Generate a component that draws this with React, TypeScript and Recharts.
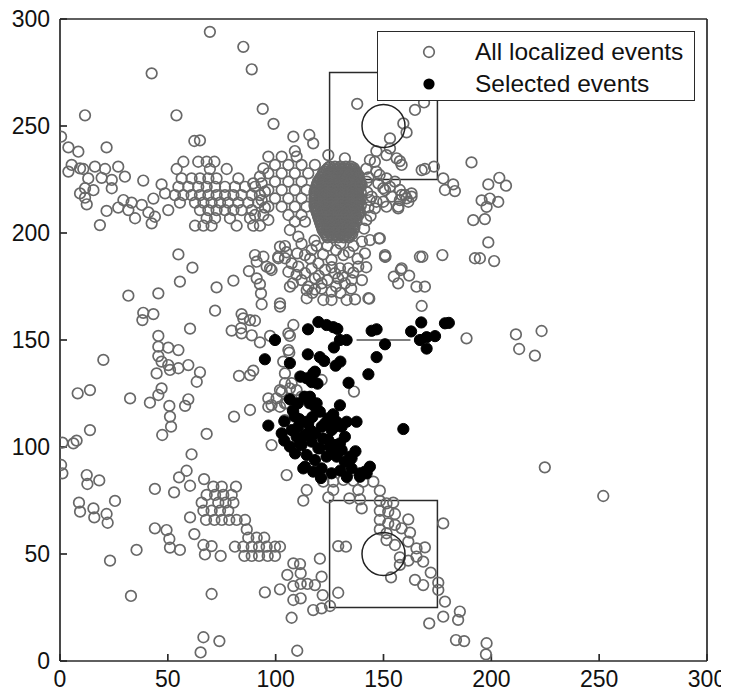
import React from 'react';
import { ScatterChart, Scatter, XAxis, YAxis, ReferenceArea, ReferenceDot, ReferenceLine, Legend } from 'recharts';

type Pt = [number, number];

const axisTicks = [0, 50, 100, 150, 200, 250, 300];

// gray rings: the west band and its lattice
const westBandEvents: Pt[] = [
  [69.5, 294], [85, 287], [88.9, 276.5], [42.5, 274.6], [11.6, 255], [54, 255], [94, 258], [99, 251],
  [0.5, 245], [3.9, 240], [8.5, 238], [21.6, 240], [62.3, 243], [64.9, 243.3],
  [5.4, 231.8], [3.9, 228.7], [9.3, 230.2], [10.8, 229.9], [16.2, 231], [20.9, 229.9], [27, 231], [30.1, 226.3],
  [13.1, 225.5], [19.3, 225.8], [24, 224.8], [24, 220.9], [38.6, 224.5], [11.6, 220.9], [9.3, 218.5], [15.5, 220],
  [11.6, 216.5], [12.4, 213.4], [21.6, 210.3], [18.5, 203.7], [47.1, 222.7], [48.7, 218.5], [43.3, 216.1],
  [29.4, 215.4], [33.2, 214.2], [37.9, 213.1], [27, 211.9], [31.7, 210.7], [41, 209.6], [44, 207.6], [34.8, 206.9],
  [42.5, 204.5], [50.2, 210.7],
  [57.2, 233.3], [64.1, 233.3], [68, 233.3], [71.6, 233.3],
  [54.1, 229.9], [69.5, 229.9], [77.3, 229.9],
  [56.4, 225.5], [61, 225.5], [64.9, 225.5], [68.8, 225.5], [72.6, 225.5], [82.7, 225.5],
  [54.9, 221.6], [59.5, 221.6], [64.1, 221.6], [68, 221.6], [71.9, 221.6], [76.5, 221.6], [81.1, 221.6], [85.8, 221.6], [90.4, 221.6],
  [53.3, 217.7], [57.2, 217.7], [61, 217.7], [64.9, 217.7], [68.8, 217.7], [72.6, 217.7], [76.5, 217.7], [80.4, 217.7], [84.2, 217.7], [88.9, 217.7], [92.7, 217.7],
  [55.6, 214.2], [62.6, 214.2], [66.5, 214.2], [70.3, 214.2], [74.2, 214.2], [78, 214.2], [82.7, 214.2], [87.3, 214.2], [91.9, 214.2],
  [64.9, 210.7], [68.8, 210.7], [72.6, 210.7], [76.5, 210.7], [80.4, 210.7], [84.2, 210.7], [88.9, 210.7],
  [68, 206.9], [71.9, 206.9], [78.8, 206.9], [88.1, 206.9],
  [62.6, 203.4], [66.5, 203.4], [70.3, 203.4], [81.9, 203.4], [89.6, 203.4], [92.7, 203.4],
  [94.3, 230.2], [92.7, 226.3], [89.6, 223.2], [93.5, 223.2], [95, 219.3], [93.5, 215.4], [95, 211.9], [90.4, 208.4], [94.3, 208.4],
];

// gray rings around the dense cluster
const centralEvents: Pt[] = [
  [96.6, 235.7], [102.8, 235.7], [109.7, 235.7],
  [99.7, 231.8], [105.9, 231.8], [112, 231.8], [118.2, 231.8],
  [96.6, 227.9], [102.8, 227.9], [108.9, 227.9], [115.1, 227.9],
  [99.7, 224], [105.9, 224], [112, 224],
  [96.6, 220.1], [102.8, 220.1], [108.9, 220.1], [114.3, 220.1],
  [99.7, 216.2], [105.9, 216.2], [112, 216.2],
  [96.6, 212.3], [102.8, 212.3], [108.9, 212.3], [114.3, 212.3],
  [105.9, 208.4], [112, 208.4], [108.9, 205.3], [113.6, 205.3], [106.6, 201.4], [96.6, 206.1],
  [108.2, 245], [115.6, 245.8], [117.4, 241.9], [108.9, 238.3], [124.4, 236.4], [132.1, 234.9], [143.7, 234.1],
  [146, 233.3], [151.4, 236.4], [153, 239.5], [156.1, 234.9], [157.6, 233.6], [146.7, 238.3], [158.4, 231.8],
  [151.4, 225.5], [149.9, 220.9], [153, 221.6], [155.3, 224], [158.4, 217.8], [160.7, 216.2], [163, 217],
  [157.6, 215.4], [161.5, 214.6], [149.9, 214.6], [151.4, 212.3], [156.8, 211.5], [143.7, 215.4], [146.7, 214.6],
  [139.9, 222.4], [142.2, 224], [146.7, 228.7], [148.2, 227.1],
  [147.6, 223.2], [150.7, 220.1], [153.8, 217], [156.9, 212.3], [159.9, 217.8], [163, 218.5], [157.6, 220.1],
  [144.5, 217], [146, 211.5], [167.7, 229.4],
  [142, 230], [143, 226], [142.5, 219], [143, 212], [142, 206], [141, 202], [144, 208],
  [102, 193.6], [110.5, 198.3], [101.2, 188.9], [104.3, 188.2], [107.4, 185.8], [110.5, 184.3], [113.6, 189.7],
  [116.7, 192.1], [105.9, 181.9], [109.7, 180.4], [113.6, 181.2], [116.7, 183.5], [119.8, 185.8], [122.9, 182.7],
  [125.9, 187.4], [127.5, 181.2], [129, 178.8], [132.1, 176.5], [135.2, 178], [138.3, 184.3], [141.4, 190.5],
  [143.7, 196.7], [115.1, 174.9], [121.3, 176.5], [125.9, 172.6], [114.4, 169.5], [122.1, 168.7], [125.9, 168.7],
  [132.9, 168.7], [136.8, 169], [143, 169.5], [106.6, 174.9], [102, 167.1], [97.4, 183.5], [150.7, 189.7],
  [148.3, 197.5], [131.4, 189.7], [133.7, 183.5], [118.2, 178.8], [129.8, 183.5],
  [112, 195], [118, 196.5], [124, 194], [130, 195], [136, 194], [140, 196], [110, 190.5], [116, 188], [122, 190],
  [128, 192], [134, 191], [138, 188], [120, 180], [126, 184], [131, 180], [136, 181.5], [124, 178], [112, 178],
  [108, 176.5], [117, 172], [130, 172], [128, 175], [135, 174], [140, 178], [142, 184], [105, 191], [119, 194],
  [118.2, 173.6], [114.4, 173.3], [121.3, 174], [143.4, 169.3], [147.9, 197.5], [150.7, 188.9],
  [90.4, 189.7], [94.3, 188.9], [91.2, 186.6], [95.8, 184.3], [98.1, 182.7], [101.2, 188.2], [104.3, 193.9],
  [87.6, 182.2], [91.2, 178.8], [92.7, 176.1], [93.2, 171.8], [93.5, 166.7], [102, 165.6],
];

// the saturated core of the cluster, row by row
const coreEvents: Pt[] = [
  [125, 231], [127.5, 231], [130, 231], [132.5, 231], [135, 231],
  [123.5, 229.5], [126, 229.5], [128.5, 229.5], [131, 229.5], [133.5, 229.5], [136, 229.5],
  [122, 228], [124.5, 228], [127, 228], [129.5, 228], [132, 228], [134.5, 228], [137, 228],
  [121.5, 226.5], [124, 226.5], [126.5, 226.5], [129, 226.5], [131.5, 226.5], [134, 226.5], [136.5, 226.5], [138.5, 226.5],
  [120.5, 225], [123, 225], [125.5, 225], [128, 225], [130.5, 225], [133, 225], [135.5, 225], [138, 225],
  [119.5, 223.5], [122, 223.5], [124.5, 223.5], [127, 223.5], [129.5, 223.5], [132, 223.5], [134.5, 223.5], [137, 223.5], [139, 223.5],
  [119, 222], [121.5, 222], [124, 222], [126.5, 222], [129, 222], [131.5, 222], [134, 222], [136.5, 222], [139, 222],
  [118.5, 220.5], [121, 220.5], [123.5, 220.5], [126, 220.5], [128.5, 220.5], [131, 220.5], [133.5, 220.5], [136, 220.5], [138.5, 220.5],
  [118, 219], [120.5, 219], [123, 219], [125.5, 219], [128, 219], [130.5, 219], [133, 219], [135.5, 219], [138, 219], [139.5, 219],
  [118.5, 217.5], [121, 217.5], [123.5, 217.5], [126, 217.5], [128.5, 217.5], [131, 217.5], [133.5, 217.5], [136, 217.5], [138.5, 217.5],
  [118, 216], [120.5, 216], [123, 216], [125.5, 216], [128, 216], [130.5, 216], [133, 216], [135.5, 216], [138, 216], [139.5, 216],
  [118.5, 214.5], [121, 214.5], [123.5, 214.5], [126, 214.5], [128.5, 214.5], [131, 214.5], [133.5, 214.5], [136, 214.5], [138.5, 214.5],
  [118, 213], [120.5, 213], [123, 213], [125.5, 213], [128, 213], [130.5, 213], [133, 213], [135.5, 213], [138, 213], [139.5, 213],
  [118.5, 211.5], [121, 211.5], [123.5, 211.5], [126, 211.5], [128.5, 211.5], [131, 211.5], [133.5, 211.5], [136, 211.5], [138.5, 211.5],
  [119, 210], [121.5, 210], [124, 210], [126.5, 210], [129, 210], [131.5, 210], [134, 210], [136.5, 210], [139, 210],
  [119.5, 208.5], [122, 208.5], [124.5, 208.5], [127, 208.5], [129.5, 208.5], [132, 208.5], [134.5, 208.5], [137, 208.5], [138.5, 208.5],
  [120, 207], [122.5, 207], [125, 207], [127.5, 207], [130, 207], [132.5, 207], [135, 207], [137.5, 207],
  [120.5, 205.5], [123, 205.5], [125.5, 205.5], [128, 205.5], [130.5, 205.5], [133, 205.5], [135.5, 205.5], [137.5, 205.5],
  [121, 204], [123.5, 204], [126, 204], [128.5, 204], [131, 204], [133.5, 204], [136, 204],
  [121.5, 202.5], [124, 202.5], [126.5, 202.5], [129, 202.5], [131.5, 202.5], [134, 202.5], [136.5, 202.5],
  [122, 201], [124.5, 201], [127, 201], [129.5, 201], [132, 201], [134.5, 201],
  [123, 199.5], [125.5, 199.5], [128, 199.5], [130.5, 199.5], [133, 199.5], [135.5, 199.5],
  [124, 198], [126.5, 198], [129, 198], [131.5, 198], [134, 198],
];

// second pass of the core, between the rows above
const coreEventsB: Pt[] = [
  [124.2, 230.3], [126.7, 230.3], [129.2, 230.3], [131.7, 230.3], [134.2, 230.3], [136.2, 230.3],
  [122.7, 228.8], [125.2, 228.8], [127.7, 228.8], [130.2, 228.8], [132.7, 228.8], [135.2, 228.8], [137.2, 228.8],
  [121.7, 227.3], [124.2, 227.3], [126.7, 227.3], [129.2, 227.3], [131.7, 227.3], [134.2, 227.3], [136.7, 227.3], [138.2, 227.3],
  [120.7, 225.8], [123.2, 225.8], [125.7, 225.8], [128.2, 225.8], [130.7, 225.8], [133.2, 225.8], [135.7, 225.8], [138.2, 225.8],
  [119.7, 224.3], [122.2, 224.3], [124.7, 224.3], [127.2, 224.3], [129.7, 224.3], [132.2, 224.3], [134.7, 224.3], [137.2, 224.3], [139.2, 224.3],
  [119.2, 222.8], [121.7, 222.8], [124.2, 222.8], [126.7, 222.8], [129.2, 222.8], [131.7, 222.8], [134.2, 222.8], [136.7, 222.8], [139.2, 222.8],
  [118.7, 221.3], [121.2, 221.3], [123.7, 221.3], [126.2, 221.3], [128.7, 221.3], [131.2, 221.3], [133.7, 221.3], [136.2, 221.3], [138.7, 221.3],
  [118.2, 219.8], [120.7, 219.8], [123.2, 219.8], [125.7, 219.8], [128.2, 219.8], [130.7, 219.8], [133.2, 219.8], [135.7, 219.8], [138.2, 219.8],
  [118.2, 218.3], [120.7, 218.3], [123.2, 218.3], [125.7, 218.3], [128.2, 218.3], [130.7, 218.3], [133.2, 218.3], [135.7, 218.3], [138.2, 218.3],
  [118.2, 216.8], [120.7, 216.8], [123.2, 216.8], [125.7, 216.8], [128.2, 216.8], [130.7, 216.8], [133.2, 216.8], [135.7, 216.8], [138.2, 216.8],
  [118.2, 215.3], [120.7, 215.3], [123.2, 215.3], [125.7, 215.3], [128.2, 215.3], [130.7, 215.3], [133.2, 215.3], [135.7, 215.3], [138.2, 215.3],
  [118.2, 213.8], [120.7, 213.8], [123.2, 213.8], [125.7, 213.8], [128.2, 213.8], [130.7, 213.8], [133.2, 213.8], [135.7, 213.8], [138.2, 213.8],
  [118.2, 212.3], [120.7, 212.3], [123.2, 212.3], [125.7, 212.3], [128.2, 212.3], [130.7, 212.3], [133.2, 212.3], [135.7, 212.3], [138.2, 212.3],
  [118.7, 210.8], [121.2, 210.8], [123.7, 210.8], [126.2, 210.8], [128.7, 210.8], [131.2, 210.8], [133.7, 210.8], [136.2, 210.8], [138.7, 210.8],
  [119.2, 209.3], [121.7, 209.3], [124.2, 209.3], [126.7, 209.3], [129.2, 209.3], [131.7, 209.3], [134.2, 209.3], [136.7, 209.3], [138.7, 209.3],
  [119.7, 207.8], [122.2, 207.8], [124.7, 207.8], [127.2, 207.8], [129.7, 207.8], [132.2, 207.8], [134.7, 207.8], [137.2, 207.8],
  [120.2, 206.3], [122.7, 206.3], [125.2, 206.3], [127.7, 206.3], [130.2, 206.3], [132.7, 206.3], [135.2, 206.3], [137.2, 206.3],
  [120.7, 204.8], [123.2, 204.8], [125.7, 204.8], [128.2, 204.8], [130.7, 204.8], [133.2, 204.8], [135.7, 204.8],
  [121.2, 203.3], [123.7, 203.3], [126.2, 203.3], [128.7, 203.3], [131.2, 203.3], [133.7, 203.3], [136.2, 203.3],
  [121.7, 201.8], [124.2, 201.8], [126.7, 201.8], [129.2, 201.8], [131.7, 201.8], [134.2, 201.8], [136.2, 201.8],
  [122.7, 200.3], [125.2, 200.3], [127.7, 200.3], [130.2, 200.3], [132.7, 200.3], [135.2, 200.3],
  [123.7, 198.8], [126.2, 198.8], [128.7, 198.8], [131.2, 198.8], [133.7, 198.8],
];

const northEastEvents: Pt[] = [
  [137.8, 260.3], [164.6, 257.5], [168.8, 261], [159.2, 251.2], [160.7, 247], [153, 244.2],
  [169.2, 229.9], [173.4, 231], [190.8, 233], [177.7, 225.5], [182.3, 222.7], [178.5, 220.1], [183.1, 219.6],
  [198.6, 222.7], [203.7, 225.8], [206.8, 222.1], [195.5, 215.2], [199.3, 216.1], [203.2, 214.5], [197.8, 212.2],
  [191.6, 206], [197, 206.5], [198.6, 195.6], [192.4, 188.2], [194.7, 188.2], [201.3, 186.9], [177.3, 189.7],
  [168, 188.9], [154.8, 179.6], [158, 182.7], [161.9, 180.1], [156.8, 176.5], [165.3, 174.9], [169.2, 174.9],
  [167.7, 165.9], [188.5, 150.8], [211.4, 152.6], [212.9, 145.8], [223.3, 154.2], [220.2, 142.7],
  [150.9, 188.9], [158.4, 183.5], [166.9, 188.9],
];

const westScatterEvents: Pt[] = [
  [54.9, 190], [61.4, 183.8], [55.6, 177.3], [72.6, 174.6], [80.4, 177.7], [31.7, 170.7], [45.6, 171.8],
  [71.9, 163.7], [38.6, 162.7], [43.3, 162.1], [38.2, 159.3], [60.3, 155.3],
  [79.6, 154.4], [83.9, 155.5], [84.2, 162.1], [85, 160.1], [88.1, 159.3], [90.4, 159], [84.2, 153.1], [88.9, 152.2],
  [92.7, 148.9], [97.4, 151.9],
  [45.6, 151.9], [45.6, 146.9], [50.2, 146.4], [54.9, 145.3], [45.6, 142.5], [47.1, 139.9], [50.2, 138.3], [51, 136],
  [54.9, 136.8], [59.5, 138.3], [44.8, 134.4], [64.9, 134.9], [63.4, 130.5],
  [20.1, 140.7], [83, 133.2], [88.1, 133.6], [89.6, 135.7],
  [47.1, 127.4], [45.6, 124.3], [41.7, 120.7], [32.5, 122.7], [50.7, 119.2], [51, 114.2], [51.5, 109.5], [47.4, 105.6],
  [59.5, 122.3], [58, 119.2],
  [8.2, 125.1], [13.9, 126.6], [13.9, 107.9], [1.1, 102], [6.2, 101.7], [7.7, 103], [68, 106.1], [80.7, 114.2], [88.1, 117.3],
  [96.6, 122.7], [100.4, 122.7], [98.1, 119.6], [102.8, 125.9], [104.3, 120.4], [98.1, 100.9],
  [108.2, 157], [106.6, 151.9], [106.3, 144.1], [105.9, 153.1], [105.9, 145.3], [103.5, 139.9], [104.3, 134.4],
  [104.3, 129.8], [106.6, 127.4], [102, 126.6], [102, 118.8], [96.6, 118.8], [104.3, 112.6], [108.2, 116.5],
  [111.3, 132.9], [107.4, 129.8], [109.7, 126.6], [112, 123.5], [105.1, 120.4], [136.3, 125.9], [121.3, 131.3],
];

const southEvents: Pt[] = [
  [0.5, 91.6], [1.1, 87.7], [12.4, 86.9], [12.7, 82.7], [18.2, 84.4], [8.8, 74], [9.3, 69.8], [15.5, 71.3],
  [15.9, 67.1], [21.6, 68.7], [22.1, 64.6], [25.5, 74.8], [35.5, 51.9], [23.2, 46.9], [32.9, 30.4],
  [44, 80.4], [52.9, 78.8], [55.2, 85.8], [58.7, 88.9], [60.3, 81.9], [61, 96.6],
  [44, 62], [49.4, 61.2], [50.7, 57], [51, 53], [55.6, 51.9], [60.3, 67.1], [62.3, 59.3],
  [66.8, 85], [71.1, 81.5], [75, 81.5], [81.6, 81.5],
  [68, 77.6], [71.9, 77.6], [75.7, 77.6], [79.6, 77.6],
  [65.7, 74], [73.4, 74], [76.8, 74], [80.4, 74],
  [66.5, 70.2], [70.3, 70.2], [74.2, 70.2], [78, 70.2],
  [67.7, 65.9], [71.6, 65.9], [75, 65.9], [78.5, 65.9], [81.9, 65.9], [85.8, 65.9],
  [86.6, 61.5], [87.3, 57.6], [91.2, 57.6], [94.7, 57.6],
  [81.1, 53.4], [85, 53.4], [88.9, 53.4], [92.3, 53.4], [95.8, 53.4], [99.7, 53.4], [102, 53.4],
  [85.5, 49.1], [88.9, 49.1], [92.3, 49.1], [96.3, 49.1], [99.7, 49.1],
  [66.5, 54.2], [70.3, 53.7], [67.2, 49.8], [74.5, 49.1],
  [70.3, 31.3], [95, 32.1], [102, 33.5], [66.5, 11.1], [73.9, 9.3], [65.2, 4],
  [105.1, 86.9], [114.4, 79.9], [112.8, 74.9], [122.1, 83.8], [126.7, 83.8], [131.4, 84.6], [136, 84.3],
  [140.6, 83.8], [145.3, 83.8], [148.3, 79.6], [126.7, 79.9], [138.3, 79.9], [134.2, 76], [124.4, 76.5],
  [139.1, 75.5], [139.9, 71.3], [148.3, 74.8], [151.4, 73.7], [154.5, 74],
  [148.3, 70.2], [152.2, 69.8], [155.3, 68.7], [148.3, 65.9], [152.2, 64.3], [155.3, 63.6], [161.5, 66.2],
  [148.3, 61.5], [151.4, 59.7], [158.4, 62], [162.3, 60], [161.5, 55.8], [155.3, 54.2], [151.4, 56.5],
  [165.3, 52.6], [169.2, 53.1], [165.3, 48.8], [168.4, 46.4], [161.5, 46.9], [157.6, 48.4], [157.6, 44.9],
  [153.5, 39.1], [164.6, 37.9], [168.4, 35.5], [171.9, 41.3], [175.4, 36.6], [175.4, 33.2], [177.7, 64.3],
  [178.5, 27.7], [185.4, 23.1], [184.6, 19.2], [177.7, 20.7], [171.2, 17.6], [183.6, 9.8], [187.4, 9.3],
  [197.8, 8.3], [197.5, 3.1], [110, 4.8], [107.4, 20.2], [129, 53.7], [132.6, 53.4], [120.5, 47.8],
  [108.2, 45.6], [111.3, 45.3], [105.4, 40.2], [111.6, 41], [108.2, 35], [111.6, 36], [114.7, 36], [118.2, 35.5],
  [121.3, 39.4], [121.8, 30.8], [108.2, 28.5], [111.6, 29.3], [117.4, 23.8], [121.3, 24.6], [125.2, 25.7], [129, 31.9],
  [224.8, 90.5], [251.9, 77.1],
];

const selectedEvents: Pt[] = [
  [95, 141], [99.7, 150], [106.6, 139.2], [115, 155], [119.8, 158.4], [123.6, 157], [126.7, 156], [128.6, 155.2],
  [114.9, 143.3], [120.5, 142], [122.5, 140.2], [127.8, 138], [130, 139.9], [129.8, 150], [132.9, 150], [127, 146.5],
  [144.5, 154.3], [146.8, 155], [150.7, 148], [146.8, 142], [143, 134], [133.8, 130], [162.8, 154], [167.5, 158.2],
  [166.9, 150], [170, 151.3], [173.9, 151.8], [170, 146], [178.5, 157.8], [180.3, 158], [118.2, 135.2],
  [111.6, 132.9], [114.4, 132.1], [116.7, 130.3], [119.4, 129.6], [117.4, 134.4],
  [106.6, 122.3], [110.3, 120.4], [113.4, 123.5], [115.9, 123.5], [115.7, 120.4], [118.3, 118.8], [119, 120.4],
  [129.8, 119.5], [126.7, 115.3], [120.5, 116.5], [124.4, 113.4], [128.3, 111.8], [137.5, 111.8], [108.9, 114.2],
  [114.4, 111.8], [122.9, 111.1], [127.5, 109.5], [132.9, 111.8], [96.6, 110], [159.2, 108.4], [102.8, 106.4],
  [107.4, 107.9], [110.5, 109.5], [115.1, 111.1], [109.7, 104.8], [113.6, 105.6], [118.2, 106.4], [121.3, 109.5],
  [125.9, 107.9], [130.6, 109.5], [132.1, 104.8], [106.6, 100.2], [112, 100.9], [116.7, 102.5], [119.8, 99.4],
  [124.4, 103.3], [127.5, 100.9], [130.6, 98.6], [114.4, 96.3], [118.2, 93.9], [123.6, 95.5], [128.3, 95.5],
  [132.1, 93.1], [135.2, 94.7], [112.8, 90], [117.4, 88.5], [121.3, 90], [125.9, 87.7], [135.2, 90], [139.1, 87.7],
  [143.7, 90.8], [141.4, 88.5], [111.3, 101.7], [129.8, 101.7], [113.6, 90.8], [134.5, 95.5], [139.1, 86.1],
  [142.2, 87.7], [125.2, 100.2], [120.5, 99.4], [104, 112], [108, 117], [111, 113], [117, 114], [122, 104],
  [126, 97], [116, 108], [104, 103], [109, 97], [121, 85.5], [130, 89], [137, 98], [133, 86],
];

const legendItems = [
  { label: 'All localized events', filled: false },
  { label: 'Selected events', filled: true },
];

const toRows = (pts: Pt[]) => pts.map(([x, y]) => ({ x, y }));

const GRAY = '#686868';
const FRAME = '#2a2a2a';
const FONT = '"Liberation Sans", Arial, Helvetica, sans-serif';

const ring = (props: any) => (
  <circle cx={props.cx} cy={props.cy} r={5.3} fill="none" stroke={GRAY} strokeWidth={1.7} />
);
const dot = (props: any) => (
  <circle cx={props.cx} cy={props.cy} r={5.6} fill="#000" stroke="#000" strokeWidth={1} />
);

function LegendBox() {
  return (
    <div
      style={{
        position: 'relative',
        width: 318,
        height: 70,
        boxSizing: 'border-box',
        border: `1.5px solid ${FRAME}`,
        background: '#fff',
        fontFamily: FONT,
        fontSize: 24.5,
        color: '#111',
      }}
    >
      {legendItems.map((item, i) => (
        <div key={item.label} style={{ position: 'absolute', left: 0, top: 4 + i * 32, height: 32, width: '100%' }}>
          <svg width={14} height={14} style={{ position: 'absolute', left: 44, top: 9 }}>
            {item.filled ? (
              <circle cx={7} cy={7} r={5.6} fill="#000" />
            ) : (
              <circle cx={7} cy={7} r={5.3} fill="none" stroke={GRAY} strokeWidth={1.7} />
            )}
          </svg>
          <span style={{ position: 'absolute', left: 97, top: 1, lineHeight: '30px', whiteSpace: 'nowrap' }}>{item.label}</span>
        </div>
      ))}
    </div>
  );
}

export default function App() {
  const tickStyle = { fill: '#111', fontSize: 23, fontFamily: FONT };
  const line = { stroke: FRAME, strokeWidth: 1.7 };
  return (
    <div style={{ margin: '-8px 0 0 -8px', width: 729, height: 698 }}>
      <ScatterChart width={729} height={698} margin={{ top: 0, right: 0, bottom: 0, left: 0 }}>
        <XAxis dataKey="x" type="number" domain={[0, 300]} ticks={axisTicks} interval={0} allowDataOverflow
          height={37} tickSize={-7} tickMargin={17} axisLine={line} tickLine={line} tick={tickStyle} />
        <YAxis dataKey="y" type="number" domain={[0, 300]} ticks={axisTicks} interval={0} allowDataOverflow
          width={60} tickSize={-7} tickMargin={17} axisLine={line} tickLine={line} tick={tickStyle} />
        <XAxis xAxisId="top" orientation="top" type="number" domain={[0, 300]} ticks={axisTicks} interval={0} allowDataOverflow
          height={19} tickSize={-7} axisLine={line} tickLine={line} tick={false} />
        <YAxis yAxisId="right" orientation="right" type="number" domain={[0, 300]} ticks={axisTicks} interval={0} allowDataOverflow
          width={22} tickSize={-7} axisLine={line} tickLine={line} tick={false} />

        <Scatter name="All localized events" data={toRows(westBandEvents)} shape={ring} isAnimationActive={false} />
        <Scatter name="west" legendType="none" data={toRows(westScatterEvents)} shape={ring} isAnimationActive={false} />
        <Scatter name="south" legendType="none" data={toRows(southEvents)} shape={ring} isAnimationActive={false} />
        <Scatter name="northeast" legendType="none" data={toRows(northEastEvents)} shape={ring} isAnimationActive={false} />
        <Scatter name="central" legendType="none" data={toRows(centralEvents)} shape={ring} isAnimationActive={false} />
        <Scatter name="core" legendType="none" data={toRows(coreEvents)} shape={ring} isAnimationActive={false} />
        <Scatter name="coreB" legendType="none" data={toRows(coreEventsB)} shape={ring} isAnimationActive={false} />
        <Scatter name="Selected events" data={toRows(selectedEvents)} shape={dot} isAnimationActive={false} />

        <ReferenceArea x1={125} x2={175} y1={225} y2={275} fill="none" fillOpacity={0} stroke={FRAME} strokeWidth={1.5} />
        <ReferenceArea x1={125} x2={175} y1={25} y2={75} fill="none" fillOpacity={0} stroke={FRAME} strokeWidth={1.5} />
        <ReferenceDot x={150} y={250} r={21.5} fill="none" stroke="#222" strokeWidth={1.5} />
        <ReferenceDot x={150} y={50} r={21.5} fill="none" stroke="#222" strokeWidth={1.5} />
        <ReferenceLine segment={[{ x: 137.5, y: 150 }, { x: 162.5, y: 150 }]} stroke="#555" strokeWidth={1.5} />

        <Legend layout="horizontal" verticalAlign="middle" align="center" content={() => <LegendBox />}
          wrapperStyle={{ left: 377, top: 31, width: 318, height: 70 }} />
      </ScatterChart>
    </div>
  );
}
